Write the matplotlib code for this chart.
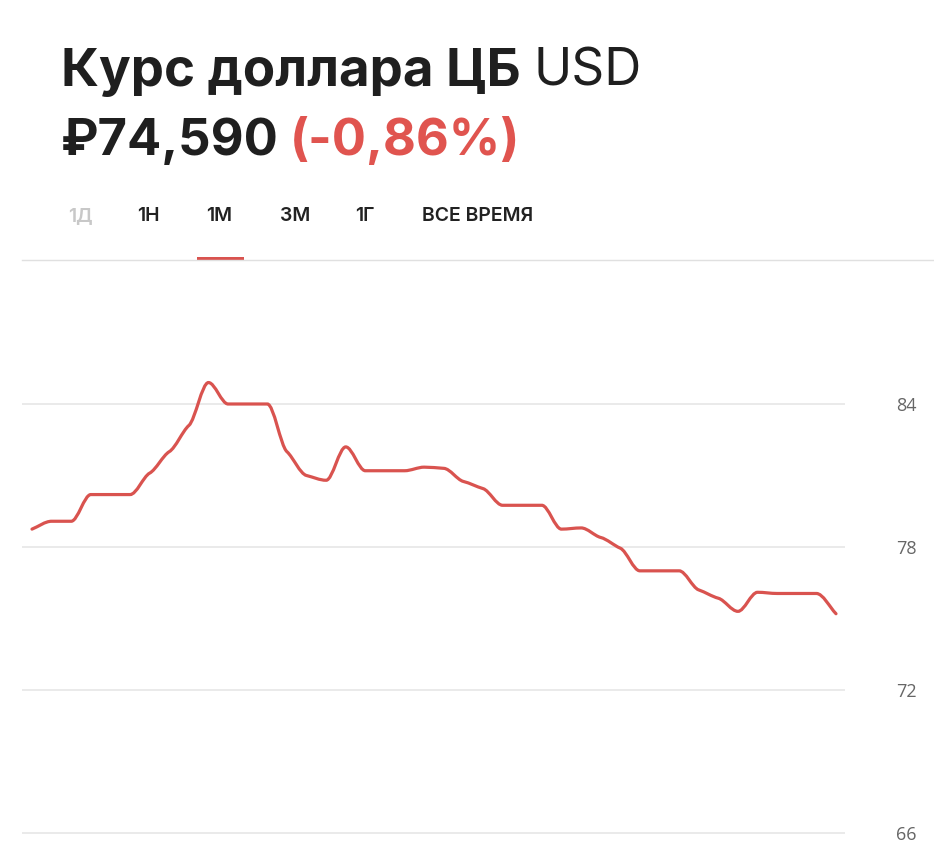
import numpy as np
import matplotlib
matplotlib.use("Agg")
import matplotlib.pyplot as plt
from matplotlib.path import Path
from matplotlib.patches import PathPatch, Rectangle
from matplotlib.lines import Line2D

plt.rcParams['font.family'] = ['Inter', 'DejaVu Sans']

# daily CBR rate (one point per day)
days = np.arange(42)
rates = [78.75, 79.08, 79.08, 80.2, 80.2, 80.2, 81.1, 82.0, 83.1, 84.9,
         84.0, 84.0, 84.0, 82.0, 81.0, 80.8, 82.2, 81.2, 81.2, 81.2,
         81.35, 81.3, 80.75, 80.45, 79.75, 79.75, 79.75, 78.75, 78.8, 78.4,
         77.95, 77.0, 77.0, 77.0, 76.2, 75.85, 75.3, 76.1, 76.05, 76.05,
         76.05, 75.2]

yticks = [66, 72, 78, 84]
tabs = ["1Д", "1Н", "1М", "3М", "1Г", "ВСЕ ВРЕМЯ"]
title_main = "Курс доллара ЦБ"
title_code = "USD"
price = "₽74,590"
change = "(-0,86%)"

RED = '#d9534f'
W, H = 934, 850


def fx(x):
    return x / W


def fy(y):
    return 1 - y / H


def monotone_path(x, y):
    # smooth curve through the points (monotone cubic, like d3 curveMonotoneX)
    x = np.asarray(x, float)
    y = np.asarray(y, float)
    h = np.diff(x)
    s = np.diff(y) / h
    t = np.zeros(len(x))
    t[0] = s[0]
    t[-1] = s[-1]
    for i in range(1, len(x) - 1):
        if s[i - 1] * s[i] <= 0:
            t[i] = 0
        else:
            p = (s[i - 1] * h[i] + s[i] * h[i - 1]) / (h[i - 1] + h[i])
            t[i] = np.sign(s[i]) * min(abs(s[i - 1]), abs(s[i]), 0.5 * abs(p))
    verts = [(x[0], y[0])]
    codes = [Path.MOVETO]
    for i in range(len(x) - 1):
        d = h[i] / 3
        verts += [(x[i] + d, y[i] + t[i] * d),
                  (x[i + 1] - d, y[i + 1] - t[i + 1] * d),
                  (x[i + 1], y[i + 1])]
        codes += [Path.CURVE4] * 3
    return Path(verts, codes)


fig = plt.figure(figsize=(W / 100, H / 100), dpi=100)
fig.patch.set_facecolor('white')

ax = fig.add_axes([fx(22), 0, (845 - 22) / W, (850 - 270) / H])
ppu = (833 - 404) / 18.0
ax.set_ylim(66 - (850 - 833) / ppu, 84 + (404 - 270) / ppu)
ppd = (836 - 32) / 41.0
ax.set_xlim(-10 / ppd, 41 + 9 / ppd)

ax.add_patch(PathPatch(monotone_path(days, rates), fill=False,
                       edgecolor=RED, lw=2.3, capstyle='round', zorder=3))

ax.set_yticks(yticks)
ax.yaxis.tick_right()
ax.tick_params(axis='y', length=0, pad=37, labelsize=13, labelcolor='#666666')
for lab in ax.get_yticklabels():
    lab.set_family(['Open Sans', 'DejaVu Sans'])
ax.set_xticks([])
ax.grid(axis='y', color='#e6e6e6', lw=1.2)
for sp in ax.spines.values():
    sp.set_visible(False)

# header
fig.text(fx(61), fy(86), title_main, fontsize=38, fontweight='bold',
         color='#1f1f1f', va='baseline')
fig.text(fx(533), fy(86), title_code, fontsize=37, fontweight='normal',
         color='#1f1f1f', va='baseline')
fig.text(fx(61), fy(155), price, fontsize=36.5, fontweight='bold',
         color='#1f1f1f', va='baseline')
fig.text(fx(290), fy(155), change, fontsize=36.5, fontweight='bold',
         color='#e0544f', va='baseline')

tab_x = [68, 137, 206, 280, 355, 422]
for name, x in zip(tabs, tab_x):
    c = '#c8c8c8' if name == "1Д" else '#222222'
    fig.text(fx(x), fy(221), name, fontsize=14, fontweight='semibold',
             color=c, va='baseline')

fig.add_artist(Line2D([fx(22), fx(934)], [fy(260.5), fy(260.5)],
                      color='#e0e0e0', lw=1))
fig.add_artist(Rectangle((fx(197), fy(261)), (244 - 197) / W, 4 / H,
                         color=RED, lw=0))

fig.savefig('out.png', dpi=100, facecolor='white')
